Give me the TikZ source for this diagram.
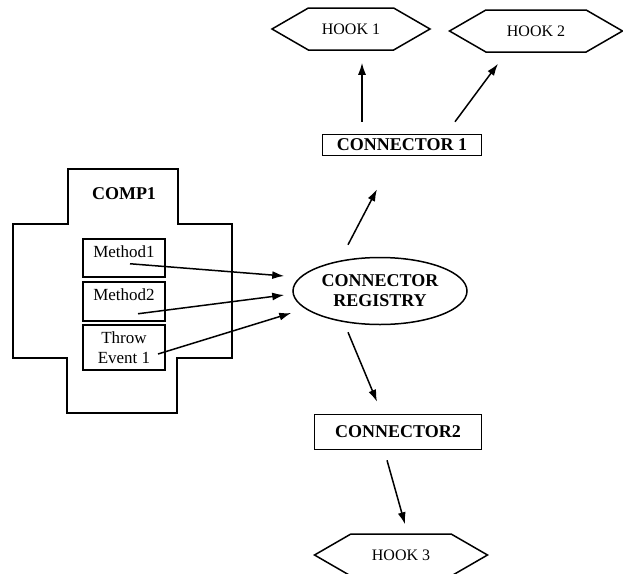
\documentclass[tikz,border=0pt]{standalone}
\usepackage{fontspec}
\setmainfont{Liberation Serif}
\usepackage{tikz}
\usetikzlibrary{arrows.meta}
\usetikzlibrary{shapes.geometric}
\usetikzlibrary{shapes.symbols}

\begin{document}
\begin{tikzpicture}[x=1pt,y=-1pt,line width=1.5pt,>={Latex[length=12pt,width=8pt]}]
					\useasboundingbox (0,0) rectangle (623,573);
					
					\tikzstyle{boxes}=[draw,rectangle,inner sep=0pt,font=\fontsize{17}{20}\selectfont]
					\tikzstyle{bold}=[font=\fontsize{18}{20}\selectfont\bfseries]
					\tikzstyle{hooks}=[draw,signal,signal to=west and east,signal pointer angle=60,minimum height=42pt,inner sep=0pt,font=\fontsize{16}{19}\selectfont]
					
					%Component - cross outline
					\draw (68,169) -- (178,169) -- (178,224) -- (232,224) -- (232,358) -- (177,358) -- (177,413) -- (67,413) -- (67,358) -- (13,358) -- (13,224) -- (68,224) -- cycle;
					\node[bold] (comp) at (124,194) {COMP1};
					
					%Methods
					\node[boxes,minimum width=82pt,inner ysep=3pt,text height=16pt,text depth=16pt,anchor=north] (m1) at (124,238) {Method1};
					\node[boxes,minimum width=82pt,inner ysep=3pt,text height=16pt,text depth=17pt,anchor=north] (m2) at (124,281) {Method2};
					\node[boxes,minimum width=82pt,minimum height=45pt,align=center] (ev) at (124,347.5) {Throw\\Event 1};
					
					%Registry
					\node[draw,ellipse,minimum width=174pt,minimum height=67pt,inner sep=0pt,align=center,bold] (reg) at (380,291) {CONNECTOR\\REGISTRY};
					
					%Connectors
					\node[boxes,minimum width=159pt,minimum height=21pt,bold] (c1) at (402,145) {CONNECTOR 1};
					\node[boxes,minimum width=167pt,minimum height=35pt,bold] (c2) at (398,432) {CONNECTOR2};
					
					%Hooks
					\foreach \name/\id/\x/\y/\w in {HOOK 1/h1/351/29/158, HOOK 2/h2/536/31/173, HOOK 3/h3/401/555/173}
					\node[hooks,minimum width=\w pt] (\id) at (\x,\y) {\name};
					
					%Links
					%Methods to registry
					\draw [->] ([xshift=6pt,yshift=-6pt]m1.center) -- ([xshift=-8pt,yshift=15pt]reg.west);
					\draw [->] ([xshift=14pt,yshift=-12.5pt]m2.center) -- ([xshift=-8pt,yshift=-4pt]reg.west);
					\draw [->] ([xshift=34pt,yshift=-6.5pt]ev.center) -- ([xshift=-1pt,yshift=-22pt]reg.west);
					%Registry to connectors
					\draw [->] ([xshift=-32pt,yshift=12pt]reg.north) -- ([xshift=-25pt,yshift=-33pt]c1.south);
					\draw [->] ([xshift=-32pt,yshift=-7pt]reg.south) -- ([xshift=-21pt,yshift=12pt]c2.north);
					%Connectors to hooks
					\draw [->] ([xshift=-40pt,yshift=12pt]c1.north) -- ([xshift=11pt,yshift=-12pt]h1.south);
					\draw [->] ([xshift=53pt,yshift=12pt]c1.north) -- ([xshift=-38pt,yshift=-11pt]h2.south);
					\draw [->] ([xshift=-11pt,yshift=-10pt]c2.south) -- ([xshift=4pt,yshift=9pt]h3.north);
					
\end{tikzpicture}
\end{document}
